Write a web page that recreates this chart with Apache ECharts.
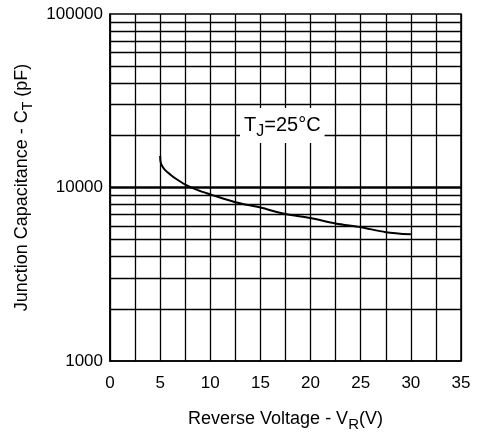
<!DOCTYPE html>
<html>
<head>
<meta charset="utf-8">
<script src="https://cdn.jsdelivr.net/npm/echarts@6/dist/echarts.min.js"></script>
<style>
html,body{margin:0;padding:0;background:#fff;}
#chart{width:482px;height:437px;}
</style>
</head>
<body>
<div id="chart"></div>
<script>
// Data
var voltage = [5, 5.05, 5.2, 5.5, 6, 6.5, 7.5, 8.75, 10, 12.5, 15, 17.5, 20, 22.5, 25, 27.5, 30];
var capacitance = [15200, 14000, 13300, 12600, 11900, 11300, 10400, 9650, 9130, 8220, 7660, 7030, 6670, 6200, 5900, 5530, 5370];
var yTickLabels = [1000, 10000, 100000];
var yMinorLines = [2000, 3000, 4000, 5000, 6000, 7000, 8000, 9000, 20000, 30000, 40000, 50000, 60000, 70000, 80000, 90000];
var yMajorLines = [10000];

var FONT = '"Liberation Sans", Arial, sans-serif';
var chart = echarts.init(document.getElementById('chart'), null, {renderer: 'canvas'});

var lineData = voltage.map(function (v, i) { return [v, capacitance[i]]; });
var markLines = yMinorLines.map(function (y) {
  return {yAxis: y, lineStyle: {color: '#000', width: 1.3, type: 'solid'}};
}).concat(yMajorLines.map(function (y) {
  return {yAxis: y, lineStyle: {color: '#000', width: 2.6, type: 'solid'}};
}));

chart.setOption({
  backgroundColor: '#fff',
  animation: false,
  grid: {left: 110, right: 21, top: 14, bottom: 70, show: true, borderColor: '#000', borderWidth: 1.5, backgroundColor: 'transparent'},
  xAxis: {
    type: 'value', min: 0, max: 35, interval: 2.5,
    axisLine: {show: true, lineStyle: {color: '#000', width: 1.5}},
    axisTick: {show: false},
    splitLine: {show: true, lineStyle: {color: '#000', width: 1.3}},
    axisLabel: {
      color: '#000', fontFamily: FONT, fontSize: 17, margin: 14,
      formatter: function (v) { return (v % 5 === 0) ? String(v) : ''; }
    },
    name: 'Reverse Voltage - V{sub|R}(V)',
    nameLocation: 'middle', nameGap: 46,
    nameTextStyle: {
      color: '#000', fontFamily: FONT, fontSize: 18,
      rich: {sub: {fontFamily: FONT, fontSize: 15, color: '#000', padding: [10, 0, 0, 0]}}
    }
  },
  yAxis: {
    type: 'log', logBase: 10, min: 1000, max: 100000,
    axisLine: {show: true, lineStyle: {color: '#000', width: 1.5}},
    axisTick: {show: false},
    splitLine: {show: false},
    axisLabel: {
      color: '#000', fontFamily: FONT, fontSize: 17, margin: 7,
      customValues: yTickLabels,
      formatter: function (v) { return String(Math.round(v)); }
    },
    name: 'Junction Capacitance - C{sub|T} (pF)',
    nameLocation: 'middle', nameGap: 72, nameRotate: 90,
    nameTextStyle: {
      color: '#000', fontFamily: FONT, fontSize: 18,
      rich: {sub: {fontFamily: FONT, fontSize: 14, color: '#000', padding: [12, 0, 0, 0]}}
    }
  },
  graphic: [{
    type: 'text',
    left: 240, top: 108,
    z: 100,
    style: {
      text: 'T{sub|J}=25°C',
      fill: '#000',
      font: '20px ' + FONT,
      backgroundColor: '#fff',
      padding: [3, 4, 3, 4],
      rich: {sub: {fontSize: 16, fontFamily: FONT, fill: '#000', padding: [13, 0, 0, 0]}}
    }
  }],
  series: [{
    type: 'line',
    data: lineData,
    smooth: 0.3,
    showSymbol: false,
    lineStyle: {color: '#000', width: 2},
    z: 10,
    markLine: {
      silent: true, symbol: ['none', 'none'], label: {show: false},
      data: markLines, z: 1
    }
  }]
});
</script>
</body>
</html>
